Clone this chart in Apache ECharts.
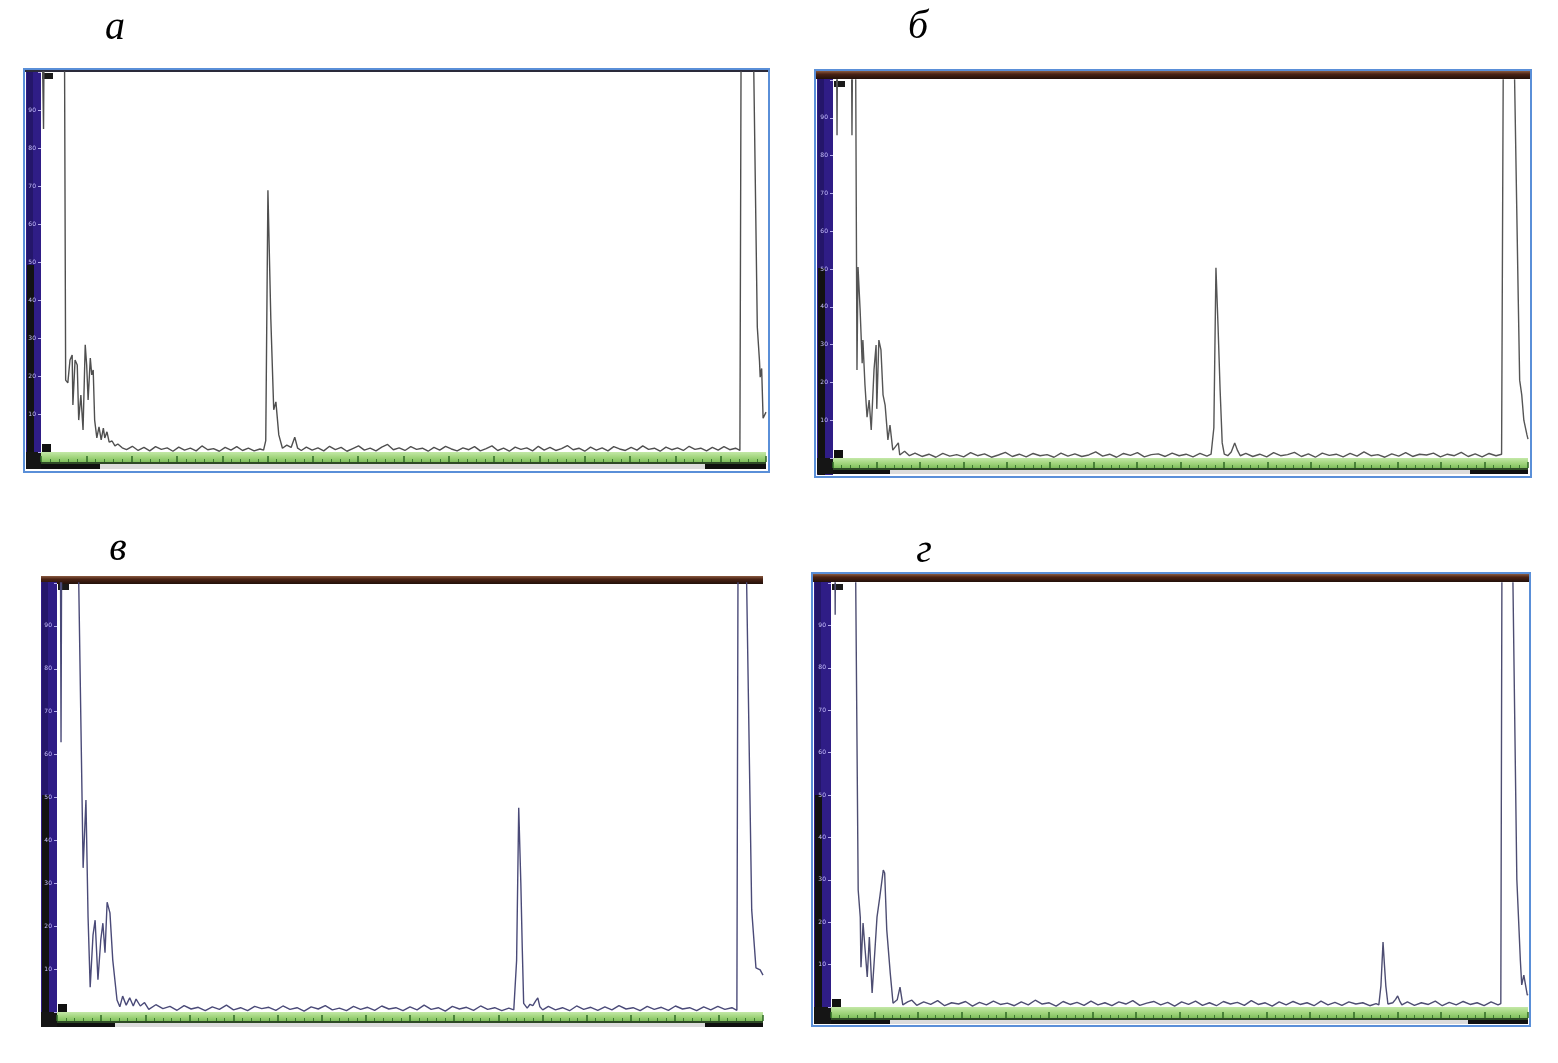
<!DOCTYPE html>
<html>
<head>
<meta charset="utf-8">
<script src="https://cdn.jsdelivr.net/npm/echarts@6/dist/echarts.min.js"></script>
<style>html,body{margin:0;padding:0;background:#fff;}#chart{width:1558px;height:1063px;}</style>
</head>
<body>
<div id="chart"></div>
<script>
// ---- DATA (x: % of screen width, y: % of screen height; >100 = off screen, clipped) ----
const panelLabels = ['а', 'б', 'в', 'г'];
const yTickValues = [10, 20, 30, 40, 50, 60, 70, 80, 90];

const scanA = [
  [0,130],[0.2,130],[0.35,85],[0.5,130],[3.2,130],[3.4,18.9],[3.7,18.2],[4.0,24.2],[4.3,25.5],[4.4,12.4],[4.7,24.2],[5.0,22.9],
  [5.2,8.4],[5.5,15.0],[5.8,5.8],[6.1,28.2],[6.3,22.9],[6.5,13.7],[6.8,24.7],[7.0,20.3],[7.2,21.6],[7.4,8.4],[7.7,3.7],
  [8.0,6.6],[8.3,3.2],[8.6,6.3],[8.8,3.7],[9.1,5.3],[9.4,2.6],[9.8,2.9],[10.2,1.6],[10.6,2.1],[11.2,1.1],
  [11.8,0.6],[12.6,1.5],[13.4,0.4],[14.2,1.2],[15.0,0.3],[15.8,1.4],[16.6,0.7],[17.4,1.1],[18.2,0.2],[19.0,1.3],[19.8,0.5],
  [20.6,1.0],[21.4,0.3],[22.2,1.6],[23.0,0.6],[23.8,0.9],[24.6,0.2],[25.4,1.2],[26.2,0.5],[27.0,1.4],[27.8,0.4],[28.6,1.0],
  [29.4,0.3],[30.2,0.8],
  [30.7,0.5],[31.0,3.0],[31.3,68.9],[31.7,35],[32.1,11.1],[32.4,13.2],[32.8,4.5],[33.3,1.0],[33.9,1.8],[34.5,1.2],[35.0,3.9],
  [35.4,1.0],[35.9,0.4],
  [36.6,1.3],[37.4,0.5],[38.2,1.1],[39.0,0.3],[39.8,1.5],[40.6,0.6],[41.4,1.2],[42.2,0.2],[43.0,0.9],[43.8,1.6],[44.6,0.5],
  [45.4,1.0],[46.2,0.3],[47.0,1.3],[47.8,2.0],[48.6,0.6],[49.4,1.1],[50.2,0.4],[51.0,1.4],[51.8,0.7],[52.6,1.0],[53.4,0.2],
  [54.2,1.2],[55.0,0.5],[55.8,1.5],[56.6,0.8],[57.4,0.3],[58.2,1.1],[59.0,0.6],[59.8,1.4],[60.6,0.3],[61.4,0.9],[62.2,1.6],
  [63.0,0.4],[63.8,1.0],[64.6,0.2],[65.4,1.3],[66.2,0.7],[67.0,1.1],[67.8,0.3],[68.6,1.5],[69.4,0.5],[70.2,1.2],[71.0,0.4],
  [71.8,0.9],[72.6,1.7],[73.4,0.6],[74.2,1.0],[75.0,0.2],[75.8,1.3],[76.6,0.5],[77.4,1.1],[78.2,0.3],[79.0,1.4],[79.8,0.8],
  [80.6,0.4],[81.4,1.2],[82.2,0.5],[83.0,1.6],[83.8,0.7],[84.6,1.0],[85.4,0.2],[86.2,1.3],[87.0,0.6],[87.8,1.1],[88.6,0.4],
  [89.4,1.5],[90.2,0.7],[91.0,1.0],[91.8,0.3],[92.6,1.2],[93.4,0.5],[94.2,1.4],[95.0,0.6],[95.8,1.0],[96.4,0.4],
  [96.6,130],[98.1,130],[98.8,32.9],[99.1,24],[99.2,19.7],[99.4,22],[99.6,8.9],[100,10.5]
];

const scanB = [
  [0,130],[0.45,130],[0.58,85.4],[0.7,130],[2.6,130],[2.73,85.4],[2.9,130],[3.2,130],[3.45,23.3],[3.6,50.5],[3.9,39.2],
  [4.2,25.1],[4.3,31.2],[4.6,19.3],[4.9,10.8],[5.2,15.3],[5.5,7.4],[5.9,23.3],[6.2,29.9],[6.3,13.0],[6.6,31.2],[6.9,28.6],
  [7.2,16.7],[7.5,14.0],[7.9,4.8],[8.2,8.7],[8.6,2.1],[9.4,4.0],[9.6,0.8],[10.3,1.8],[11.0,0.6],
  [11.8,1.3],[12.8,0.4],[13.8,1.0],[14.8,0.2],[15.8,1.2],[16.8,0.5],[17.8,0.9],[18.8,0.3],[19.8,1.4],[20.8,0.6],[21.8,1.1],
  [22.8,0.2],[23.8,0.8],[24.8,1.5],[25.8,0.4],[26.8,1.0],[27.8,0.3],[28.8,1.2],[29.8,0.6],[30.8,0.9],[31.8,0.2],[32.8,1.3],
  [33.8,0.5],[34.8,1.1],[35.8,0.4],[36.8,0.8],[37.8,1.6],[38.8,0.5],[39.8,1.0],[40.8,0.2],[41.8,1.2],[42.8,0.7],[43.8,1.4],
  [44.8,0.3],[45.8,0.9],[46.8,1.1],[47.8,0.4],[48.8,1.3],[49.8,0.6],[50.8,1.0],[51.8,0.3],[52.8,1.2],[53.8,0.5],
  [54.4,1.0],[54.8,8],[55.1,50.3],[55.4,35],[55.7,18],[56.0,4],[56.3,1.0],[56.8,0.6],[57.3,1.6],[57.8,4.0],[58.2,2.0],[58.6,0.6],
  [59.4,1.2],[60.4,0.4],[61.4,1.0],[62.4,0.3],[63.4,1.4],[64.4,0.6],[65.4,0.9],[66.4,1.5],[67.4,0.4],[68.4,1.1],[69.4,0.2],
  [70.4,1.3],[71.4,0.7],[72.4,1.0],[73.4,0.3],[74.4,1.2],[75.4,0.5],[76.4,1.6],[77.4,0.6],[78.4,0.9],[79.4,0.2],[80.4,1.1],
  [81.4,0.5],[82.4,1.4],[83.4,0.4],[84.4,1.0],[85.4,0.8],[86.4,1.3],[87.4,0.3],[88.4,1.0],[89.4,0.6],[90.4,1.5],[91.4,0.4],
  [92.4,1.1],[93.4,0.3],[94.4,1.2],[95.4,0.6],[96.2,1.0],
  [96.5,130],[97.8,130],[98.6,41.8],[98.8,20.6],[99.1,16.7],[99.4,10],[99.85,6.1],[100,5]
];

const scanV = [
  [0,130],[0.45,130],[0.57,62.9],[0.7,130],[2.8,130],[3.7,33.6],[4.1,49.4],[4.4,22.1],[4.7,5.8],[5.1,17.9],[5.4,21.4],
  [5.8,7.5],[6.2,16.8],[6.5,20.7],[6.8,13.8],[7.1,25.6],[7.5,23.1],[7.9,12.1],[8.5,2.8],[8.9,1.2],[9.3,3.7],[9.8,1.6],
  [10.3,3.3],[10.8,1.4],[11.2,3.0],[11.8,1.4],[12.4,2.2],
  [13.0,0.6],[14.0,1.7],[15.0,0.8],[16.0,1.3],[17.0,0.4],[18.0,1.5],[19.0,0.7],[20.0,1.1],[21.0,0.3],[22.0,1.2],[23.0,0.6],
  [24.0,1.6],[25.0,0.5],[26.0,1.0],[27.0,0.3],[28.0,1.3],[29.0,0.8],[30.0,1.1],[31.0,0.4],[32.0,1.4],[33.0,0.6],[34.0,1.0],
  [35.0,0.2],[36.0,1.2],[37.0,0.7],[38.0,1.5],[39.0,0.5],[40.0,0.9],[41.0,0.3],[42.0,1.3],[43.0,0.6],[44.0,1.1],[45.0,0.4],
  [46.0,1.4],[47.0,0.7],[48.0,1.0],[49.0,0.3],[50.0,1.2],[51.0,0.5],[52.0,1.6],[53.0,0.6],[54.0,1.0],[55.0,0.2],[56.0,1.3],
  [57.0,0.7],[58.0,1.1],[59.0,0.4],[60.0,1.4],[61.0,0.6],[62.0,1.0],[63.0,0.3],[64.0,0.9],
  [64.7,0.5],[65.1,12],[65.4,47.6],[65.7,30],[65.9,15],[66.1,2],[66.6,0.9],[67.0,1.8],[67.4,1.5],[67.8,2.6],[68.1,3.3],
  [68.4,1.2],[68.8,0.5],
  [69.6,1.3],[70.6,0.5],[71.6,1.0],[72.6,0.3],[73.6,1.4],[74.6,0.6],[75.6,1.1],[76.6,0.4],[77.6,1.2],[78.6,0.5],[79.6,1.5],
  [80.6,0.7],[81.6,1.0],[82.6,0.3],[83.6,1.3],[84.6,0.6],[85.6,1.1],[86.6,0.4],[87.6,1.4],[88.6,0.7],[89.6,1.0],[90.6,0.3],
  [91.6,1.2],[92.6,0.5],[93.6,1.3],[94.6,0.6],[95.6,1.0],[96.3,0.4],
  [96.5,130],[97.4,130],[98.4,23.8],[99.0,10.3],[99.6,9.8],[100,8.6]
];

const scanG = [
  [0,130],[0.5,130],[0.6,92.5],[0.7,130],[3.4,130],[3.9,27.6],[4.2,21.2],[4.3,9.4],[4.6,19.8],[4.9,13.4],[5.2,7.1],
  [5.5,16.5],[5.9,3.3],[6.3,13.4],[6.6,21.2],[7.0,25.9],[7.5,32.3],[7.7,31.6],[8.0,18.2],[8.5,8.0],[8.9,0.9],[9.5,1.7],
  [9.9,4.7],[10.3,0.5],[11.0,1.2],[11.6,1.6],
  [12.3,0.4],[13.3,1.2],[14.3,0.6],[15.3,1.5],[16.3,0.3],[17.3,1.0],[18.3,0.7],[19.3,1.3],[20.3,0.2],[21.3,1.1],[22.3,0.5],
  [23.3,1.4],[24.3,0.6],[25.3,0.9],[26.3,0.3],[27.3,1.2],[28.3,0.5],[29.3,1.6],[30.3,0.7],[31.3,1.0],[32.3,0.2],[33.3,1.3],
  [34.3,0.6],[35.3,1.1],[36.3,0.4],[37.3,1.4],[38.3,0.5],[39.3,1.0],[40.3,0.3],[41.3,1.2],[42.3,0.7],[43.3,1.5],[44.3,0.4],
  [45.3,0.9],[46.3,1.3],[47.3,0.5],[48.3,1.1],[49.3,0.2],[50.3,1.2],[51.3,0.6],[52.3,1.4],[53.3,0.4],[54.3,1.0],[55.3,0.3],
  [56.3,1.3],[57.3,0.7],[58.3,1.1],[59.3,0.4],[60.3,1.5],[61.3,0.6],[62.3,1.0],[63.3,0.2],[64.3,1.2],[65.3,0.5],[66.3,1.3],
  [67.3,0.6],[68.3,1.0],[69.3,0.3],[70.3,1.4],[71.3,0.5],[72.3,1.1],[73.3,0.4],[74.3,1.2],[75.3,0.7],[76.3,1.0],[77.3,0.3],
  [78.2,0.8],
  [78.6,0.5],[78.9,5],[79.2,15.3],[79.4,10],[79.6,5],[79.9,0.7],[80.6,1.0],[81.0,1.8],[81.3,2.6],[81.6,1.4],[81.9,0.5],
  [82.7,1.2],[83.7,0.4],[84.7,1.0],[85.7,0.6],[86.7,1.4],[87.7,0.3],[88.7,1.1],[89.7,0.5],[90.7,1.3],[91.7,0.6],[92.7,1.0],
  [93.7,0.3],[94.7,1.2],[95.7,0.5],[96.1,0.8],
  [96.3,130],[97.6,130],[98.4,30],[98.9,11.1],[99.1,5.2],[99.4,7.5],[99.9,2.8],[100,3]
];

const scans = [scanA, scanB, scanV, scanG];

// ---- LAYOUT / STYLE ----
const layouts = [
  { frame:[24,69,745,403], border:true, bar:false, strip:[26,72,15,397], blackFrom:265,
    plot:[41,72,725,380], green:10, bottom:7, blacks:[[41,100],[705,766]], line:'#4f4f4f',
    label:[115,28] },
  { frame:[815,70,716,407], border:true, bar:true, strip:[817,79,16,396], blackFrom:268,
    plot:[833,80,695,378], green:10, bottom:6, blacks:[[833,890],[1470,1528]], line:'#555555',
    label:[918,27] },
  { frame:[40,575,724,452], border:false, bar:true, strip:[41,582,16,445], blackFrom:795,
    plot:[57,583,706,429], green:9, bottom:6, blacks:[[57,115],[705,763]], line:'#4a4a78',
    label:[118,549] },
  { frame:[812,573,718,453], border:true, bar:true, strip:[814,582,17,442], blackFrom:795,
    plot:[831,583,697,424], green:11, bottom:6, blacks:[[831,890],[1468,1528]], line:'#4d4d72',
    label:[924,551] }
];

const graphics = [];
layouts.forEach((L, i) => {
  const [fx, fy, fw, fh] = L.frame;
  const [px, py, pw, ph] = L.plot;
  graphics.push({ type:'rect', z:-10, shape:{x:fx, y:fy, width:fw, height:fh},
    style:{ fill:'#ffffff', stroke: L.border ? '#5a8fd8' : null, lineWidth: L.border ? 2 : 0 } });
  if (L.bar) {
    graphics.push({ type:'rect', z:-9, shape:{x:fx+1, y:fy+1, width:fw-2, height:8},
      style:{ fill:{ type:'linear', x:0, y:0, x2:0, y2:1,
        colorStops:[{offset:0,color:'#8a5a40'},{offset:0.4,color:'#4a2214'},{offset:1,color:'#22100a'}] } } });
  } else {
    graphics.push({ type:'rect', z:-9, shape:{x:fx+1, y:fy+1, width:fw-2, height:2}, style:{ fill:'#2a2a3a' } });
  }
  const [sx, sy, sw, sh] = L.strip;
  graphics.push({ type:'rect', z:-9, shape:{x:sx, y:sy, width:sw, height:sh}, style:{ fill:'#2f1d86' } });
  graphics.push({ type:'rect', z:-9, shape:{x:sx+1, y:sy, width:6, height:sh}, style:{ fill:'#24166a' } });
  graphics.push({ type:'rect', z:-9, shape:{x:sx+1, y:L.blackFrom, width:7, height:sy+sh-L.blackFrom}, style:{ fill:'#121212' } });
  graphics.push({ type:'rect', z:-9, shape:{x:sx, y:py+ph, width:sw, height:L.green+L.bottom}, style:{ fill:'#151515' } });
  // green band
  graphics.push({ type:'rect', z:-9, shape:{x:px, y:py+ph, width:pw, height:L.green},
    style:{ fill:{ type:'linear', x:0, y:0, x2:0, y2:1,
      colorStops:[{offset:0,color:'#c4e8a8'},{offset:0.5,color:'#a3d67f'},{offset:1,color:'#7fbf5c'}] } } });
  // bottom strip
  const by = py + ph + L.green;
  graphics.push({ type:'rect', z:-9, shape:{x:px, y:by, width:pw, height:L.bottom}, style:{ fill:'#dcdcdc' } });
  graphics.push({ type:'rect', z:-8, shape:{x:px, y:by, width:pw, height:2}, style:{ fill:'#2e4a26' } });
  L.blacks.forEach(b => {
    graphics.push({ type:'rect', z:-8, shape:{x:b[0], y:by+2, width:b[1]-b[0], height:L.bottom-2}, style:{ fill:'#101010' } });
  });
  // small markers
  graphics.push({ type:'rect', z:-8, shape:{x:px+1, y:py+1, width:11, height:6}, style:{ fill:'#1a1a1a' } });
  graphics.push({ type:'rect', z:-8, shape:{x:px+1, y:py+ph-8, width:9, height:8}, style:{ fill:'#111111' } });
  // panel letter
  graphics.push({ type:'text', z:5, x:L.label[0], y:L.label[1],
    style:{ text: panelLabels[i], font:'italic 40px "Liberation Serif", "DejaVu Serif", serif',
      fill:'#000', align:'center', verticalAlign:'middle' } });
});

const grids = [], xAxes = [], yAxes = [], series = [];
layouts.forEach((L, i) => {
  const [px, py, pw, ph] = L.plot;
  grids.push({ left:px, top:py, width:pw, height:ph, show:false });
  xAxes.push({ type:'value', gridIndex:i, min:0, max:100, show:false });
  xAxes.push({ type:'value', gridIndex:i, min:0, max:100, interval:6.25, position:'bottom', offset:L.green, z:10,
    axisLine:{show:false}, axisLabel:{show:false}, splitLine:{show:false},
    axisTick:{show:true, inside:true, length:6, lineStyle:{color:'#2f6a24', width:1.5}},
    minorTick:{show:true, splitNumber:5, length:3, lineStyle:{color:'#3d7a30', width:1}} });
  yAxes.push({ type:'value', gridIndex:i, min:0, max:100, interval:10, z:10,
    axisLine:{show:false}, splitLine:{show:false},
    axisTick:{show:true, length:3, lineStyle:{color:'#b8b0ee'}},
    axisLabel:{ show:true, margin:5, fontSize:6, color:'#c8c0ff', fontFamily:'DejaVu Sans',
      formatter: v => (yTickValues.indexOf(v) >= 0 ? String(v) : '') } });
  series.push({ type:'line', xAxisIndex:2*i, yAxisIndex:i, data:scans[i], showSymbol:false, clip:true,
    z:3, lineStyle:{ color:L.line, width:1.4 }, animation:false });
});

const chart = echarts.init(document.getElementById('chart'), null, { renderer:'canvas' });
chart.setOption({
  backgroundColor:'#ffffff',
  animation:false,
  graphic: graphics,
  grid: grids,
  xAxis: xAxes,
  yAxis: yAxes,
  series: series
});
</script>
</body>
</html>
